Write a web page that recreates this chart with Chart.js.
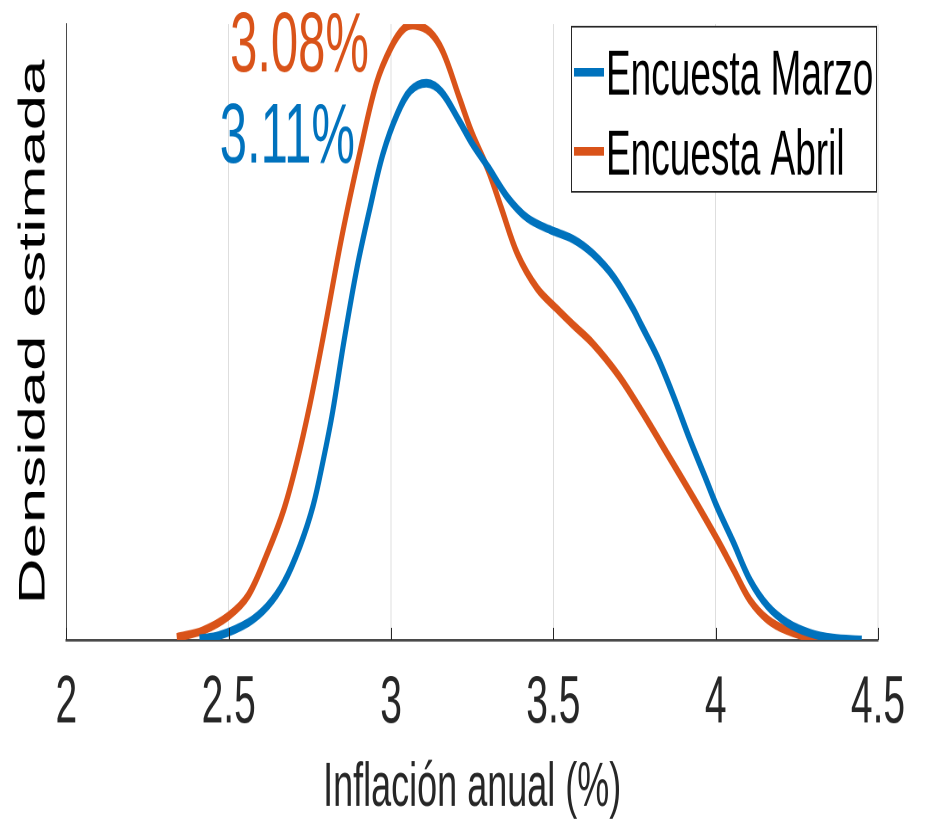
<!DOCTYPE html>
<html>
<head>
<meta charset="utf-8">
<script src="https://cdn.jsdelivr.net/npm/chart.js@4.4.1/dist/chart.umd.min.js"></script>
<style>
    html, body { margin: 0; padding: 0; background: #ffffff; width: 926px; height: 822px; overflow: hidden; }
    #page { width: 926px; height: 822px; position: relative; }
    /* the original figure is stretched vertically, so the chart is drawn short and scaled up */
    #wrap { position: absolute; left: 0; top: 0; width: 926px; height: 478px; transform: scaleY(1.72); transform-origin: 0 0; }
</style>
</head>
<body>
<div id="page"><div id="wrap"><canvas id="chart" width="926" height="478"></canvas></div></div>
<script>
    // x ticks
    var xTicks = [2, 2.5, 3, 3.5, 4, 4.5];

    // Encuesta Marzo (blue) - relative estimated density
    var marzoX = [2.41, 2.47, 2.56, 2.62, 2.67, 2.72, 2.76, 2.79, 2.82, 2.855, 2.895, 2.935, 2.975, 3.02, 3.06, 3.11, 3.155, 3.21, 3.25, 3.30, 3.36, 3.42, 3.49, 3.56, 3.62, 3.685, 3.745, 3.77, 3.82, 3.87, 3.92, 3.97, 4.005, 4.055, 4.105, 4.16, 4.22, 4.29, 4.36, 4.45];
    var marzoY = [0.002, 0.007, 0.028, 0.055, 0.093, 0.153, 0.218, 0.289, 0.370, 0.485, 0.604, 0.701, 0.789, 0.855, 0.892, 0.904, 0.890, 0.843, 0.806, 0.767, 0.718, 0.685, 0.666, 0.651, 0.628, 0.590, 0.538, 0.512, 0.460, 0.396, 0.326, 0.261, 0.215, 0.158, 0.098, 0.055, 0.028, 0.011, 0.003, 0.0];

    // Encuesta Abril (orange)
    var abrilX = [2.34, 2.42, 2.50, 2.56, 2.62, 2.67, 2.71, 2.75, 2.79, 2.85, 2.905, 2.955, 3.00, 3.04, 3.075, 3.12, 3.16, 3.21, 3.25, 3.30, 3.34, 3.39, 3.45, 3.51, 3.56, 3.62, 3.70, 3.77, 3.85, 3.93, 4.005, 4.055, 4.105, 4.16, 4.22, 4.29, 4.37];
    var abrilY = [0.004, 0.015, 0.039, 0.072, 0.142, 0.212, 0.289, 0.382, 0.489, 0.659, 0.794, 0.904, 0.962, 0.993, 0.998, 0.987, 0.955, 0.881, 0.822, 0.762, 0.701, 0.626, 0.571, 0.538, 0.512, 0.482, 0.430, 0.373, 0.303, 0.232, 0.163, 0.114, 0.065, 0.033, 0.015, 0.004, 0.001];

    var seriesNames = ['Encuesta Marzo', 'Encuesta Abril'];
    var modeLabels = ['3.11%', '3.08%'];

    var BLUE = '#0072BD';
    var ORANGE = '#D95319';
    var AXIS = '#262626';
    var FONT = "'Liberation Sans', Arial, Helvetica, sans-serif";

    function toPoints(xs, ys) {
        var pts = [];
        for (var i = 0; i < xs.length; i++) {
            pts.push({x: xs[i], y: ys[i]});
        }
        return pts;
    }

    // small tick marks pointing into the plot, legend box and the mode labels
    var extrasPlugin = {
        id: 'extras',
        afterDraw: function(chart) {
            var ctx = chart.ctx;
            var area = chart.chartArea;
            var xs = chart.scales.x;
            ctx.save();

            ctx.strokeStyle = AXIS;
            ctx.lineWidth = 1;
            xTicks.forEach(function(t) {
                var px = Math.round(xs.getPixelForValue(t)) + 0.5;
                ctx.beginPath();
                ctx.moveTo(px, area.bottom);
                ctx.lineTo(px, area.bottom - 7);
                ctx.stroke();
            });

            // mode labels
            ctx.font = '49px ' + FONT;
            ctx.textAlign = 'right';
            ctx.textBaseline = 'alphabetic';
            ctx.fillStyle = ORANGE;
            ctx.fillText(modeLabels[1], 369, 41.5);
            ctx.fillStyle = BLUE;
            ctx.fillText(modeLabels[0], 355, 94.5);

            // legend
            ctx.fillStyle = '#ffffff';
            ctx.fillRect(571, 15.5, 306, 96);
            ctx.strokeStyle = AXIS;
            ctx.lineWidth = 1;
            ctx.strokeRect(571.5, 15.5, 305, 96);
            var colors = [BLUE, ORANGE];
            var rows = [42, 88];
            var bases = [55.2, 101.7];
            ctx.font = '37px ' + FONT;
            ctx.textAlign = 'left';
            for (var i = 0; i < seriesNames.length; i++) {
                ctx.strokeStyle = colors[i];
                ctx.lineWidth = 5;
                ctx.lineCap = 'butt';
                ctx.beginPath();
                ctx.moveTo(574, rows[i]);
                ctx.lineTo(604, rows[i]);
                ctx.stroke();
                ctx.fillStyle = '#000000';
                ctx.fillText(seriesNames[i], 606, bases[i]);
            }
            ctx.restore();
        }
    };

    var data = {
        datasets: [{
            label: seriesNames[0],
            data: toPoints(marzoX, marzoY),
            borderColor: BLUE,
            borderWidth: 5,
            borderCapStyle: 'butt',
            pointRadius: 0,
            tension: 0.35,
            fill: false
        }, {
            label: seriesNames[1],
            data: toPoints(abrilX, abrilY),
            borderColor: ORANGE,
            borderWidth: 5,
            borderCapStyle: 'butt',
            pointRadius: 0,
            tension: 0.35,
            fill: false
        }]
    };

    var options = {
        responsive: false,
        devicePixelRatio: 2,
        animation: false,
        layout: { padding: { left: 0, right: 48, top: 14, bottom: 0 } },
        plugins: {
            legend: { display: false },
            tooltip: { enabled: false }
        },
        scales: {
            x: {
                type: 'linear',
                min: 2,
                max: 4.5,
                afterBuildTicks: function(axis) {
                    axis.ticks = xTicks.map(function(v) { return {value: v}; });
                },
                grid: { color: '#dedede', lineWidth: 1, drawTicks: false },
                border: { display: true, color: '#4a4a4a', width: 1.5 },
                ticks: {
                    color: AXIS,
                    font: { family: FONT, size: 39 },
                    padding: 14,
                    maxRotation: 0,
                    callback: function(v) { return String(v); }
                },
                title: {
                    display: true,
                    text: 'Inflación anual (%)',
                    color: AXIS,
                    font: { family: FONT, size: 36 },
                    padding: { top: -10, bottom: -2 }
                }
            },
            y: {
                min: 0,
                max: 1,
                grid: { display: false },
                border: { display: true, color: '#4a4a4a', width: 1 },
                ticks: { display: false },
                title: {
                    display: true,
                    text: 'Densidad estimada',
                    color: '#000000',
                    font: { family: FONT, size: 37 },
                    padding: { top: 12, bottom: 2 }
                }
            }
        }
    };

    new Chart(document.getElementById('chart'), {
        type: 'line',
        data: data,
        options: options,
        plugins: [extrasPlugin]
    });
</script>
</body>
</html>
